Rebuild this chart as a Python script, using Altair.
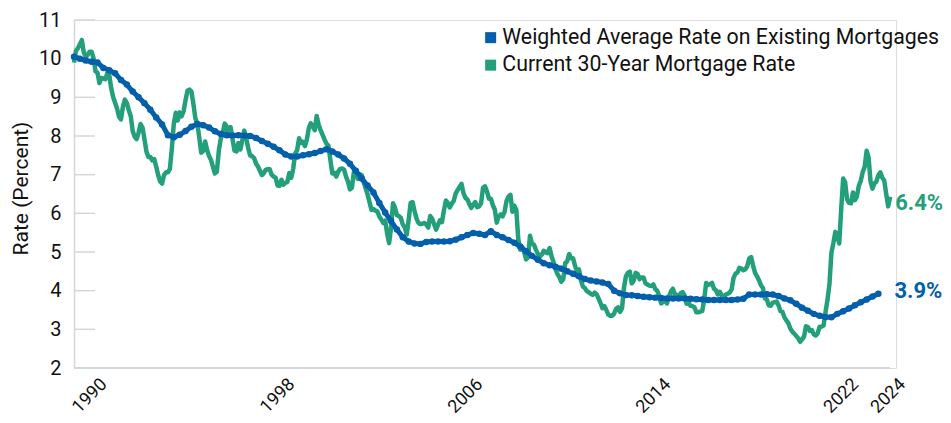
import altair as alt
import pandas as pd

START_YEAR = 1990

# Current 30-year mortgage rate, monthly, Jan 1990 onward
rate_30yr_1990s = [
    9.90, 10.20, 10.27, 10.37, 10.48, 10.16, 10.04, 10.10, 10.18, 10.18, 10.01, 9.67,
    9.64, 9.37, 9.50, 9.49, 9.47, 9.62, 9.58, 9.24, 9.01, 8.86, 8.71, 8.50,
    8.43, 8.76, 8.94, 8.85, 8.67, 8.51, 8.13, 7.98, 7.92, 8.09, 8.31, 8.22,
    7.92, 7.60, 7.46, 7.46, 7.37, 7.40, 7.21, 6.99, 6.83, 6.77, 6.99, 7.06,
    7.06, 7.15, 7.68, 8.32, 8.60, 8.40, 8.61, 8.51, 8.64, 8.93, 9.17, 9.20,
    9.15, 8.83, 8.46, 8.32, 7.96, 7.57, 7.61, 7.86, 7.64, 7.48, 7.38, 7.20,
    7.03, 7.08, 7.62, 7.93, 8.07, 8.32, 8.25, 8.00, 8.23, 7.92, 7.62, 7.60,
    7.82, 7.65, 7.90, 8.14, 7.94, 7.69, 7.50, 7.48, 7.43, 7.29, 7.21, 7.10,
    6.99, 7.04, 7.13, 7.14, 7.14, 7.00, 6.95, 6.92, 6.72, 6.71, 6.87, 6.74,
    6.79, 6.81, 7.04, 6.92, 7.15, 7.55, 7.63, 7.94, 7.82, 7.85, 7.74, 7.91,
]
rate_30yr_2000s = [
    8.21, 8.33, 8.24, 8.15, 8.52, 8.29, 8.15, 8.03, 7.91, 7.80, 7.75, 7.38,
    7.03, 7.05, 6.95, 7.08, 7.15, 7.16, 7.13, 6.95, 6.82, 6.62, 6.66, 7.07,
    7.00, 6.89, 7.01, 6.99, 6.81, 6.65, 6.49, 6.29, 6.09, 6.11, 6.07, 6.05,
    5.92, 5.84, 5.75, 5.81, 5.48, 5.23, 5.63, 6.26, 6.15, 5.95, 5.93, 5.88,
    5.71, 5.64, 5.45, 5.83, 6.27, 6.29, 6.06, 5.87, 5.75, 5.72, 5.73, 5.75,
    5.71, 5.63, 5.93, 5.86, 5.72, 5.58, 5.70, 5.82, 5.77, 6.07, 6.33, 6.27,
    6.15, 6.25, 6.32, 6.51, 6.60, 6.68, 6.76, 6.52, 6.40, 6.36, 6.24, 6.14,
    6.22, 6.29, 6.16, 6.18, 6.26, 6.66, 6.70, 6.57, 6.38, 6.38, 6.21, 6.10,
    5.76, 5.92, 5.97, 5.92, 6.04, 6.32, 6.43, 6.48, 6.04, 6.20, 6.09, 5.33,
    5.06, 5.13, 5.00, 4.81, 4.86, 5.42, 5.22, 5.19, 5.06, 4.95, 4.88, 4.93,
]
rate_30yr_2010s = [
    5.03, 4.99, 4.97, 5.10, 4.89, 4.74, 4.56, 4.43, 4.35, 4.23, 4.30, 4.71,
    4.76, 4.95, 4.84, 4.84, 4.64, 4.51, 4.55, 4.27, 4.11, 4.07, 3.99, 3.96,
    3.92, 3.89, 3.95, 3.91, 3.80, 3.68, 3.55, 3.60, 3.50, 3.38, 3.35, 3.35,
    3.41, 3.53, 3.57, 3.45, 3.54, 4.07, 4.37, 4.46, 4.49, 4.19, 4.26, 4.46,
    4.43, 4.30, 4.34, 4.34, 4.19, 4.16, 4.13, 4.12, 4.16, 4.04, 4.00, 3.86,
    3.67, 3.71, 3.77, 3.67, 3.84, 3.98, 4.05, 3.91, 3.89, 3.80, 3.94, 3.96,
    3.87, 3.66, 3.69, 3.61, 3.60, 3.57, 3.44, 3.44, 3.46, 3.47, 3.77, 4.20,
    4.15, 4.17, 4.20, 4.05, 4.01, 3.90, 3.97, 3.88, 3.81, 3.90, 3.92, 3.95,
    4.03, 4.33, 4.44, 4.47, 4.59, 4.57, 4.53, 4.55, 4.63, 4.83, 4.87, 4.64,
    4.46, 4.37, 4.27, 4.14, 4.07, 3.80, 3.77, 3.62, 3.61, 3.69, 3.70, 3.72,
]
rate_30yr_2020s = [
    3.62, 3.47, 3.45, 3.31, 3.23, 3.16, 3.02, 2.94, 2.89, 2.83, 2.77, 2.68,
    2.74, 2.81, 3.08, 3.06, 2.96, 2.98, 2.87, 2.84, 2.90, 3.07, 3.07, 3.10,
    3.45, 3.76, 4.17, 4.98, 5.23, 5.52, 5.41, 5.22, 6.11, 6.90, 6.81, 6.36,
    6.27, 6.26, 6.54, 6.34, 6.43, 6.71, 6.84, 7.07, 7.20, 7.62, 7.44, 6.82,
    6.64, 6.78, 6.82, 6.99, 7.06, 6.92, 6.85, 6.50, 6.18, 6.43,
]

# Weighted average rate on existing mortgages, quarterly, 1990 Q1 onward
weighted_1990s = [
    10.05, 10.00, 9.95, 9.92,
    9.90, 9.76, 9.70, 9.62,
    9.45, 9.33, 9.15, 9.00,
    8.85, 8.68, 8.48, 8.30,
    8.02, 7.97, 8.03, 8.13,
    8.24, 8.31, 8.28, 8.22,
    8.12, 8.05, 8.02, 8.01,
    8.02, 8.01, 8.00, 7.95,
    7.87, 7.80, 7.72, 7.63,
    7.52, 7.47, 7.47, 7.50,
]
weighted_2000s = [
    7.53, 7.56, 7.61, 7.66,
    7.60, 7.52, 7.42, 7.28,
    7.10, 6.90, 6.72, 6.54,
    6.27, 6.02, 5.80, 5.58,
    5.38, 5.27, 5.22, 5.21,
    5.26, 5.27, 5.27, 5.27,
    5.28, 5.32, 5.38, 5.44,
    5.49, 5.47, 5.44, 5.54,
    5.44, 5.38, 5.31, 5.24,
    5.14, 5.02, 4.90, 4.80,
]
weighted_2010s = [
    4.71, 4.66, 4.62, 4.57,
    4.50, 4.44, 4.37, 4.30,
    4.26, 4.24, 4.21, 4.17,
    4.00, 3.93, 3.89, 3.88,
    3.86, 3.84, 3.83, 3.82,
    3.81, 3.80, 3.80, 3.80,
    3.80, 3.79, 3.78, 3.77,
    3.76, 3.76, 3.76, 3.76,
    3.76, 3.77, 3.79, 3.90,
    3.90, 3.90, 3.91, 3.90,
]
weighted_2020s = [
    3.86, 3.80, 3.75, 3.66,
    3.56, 3.48, 3.40, 3.35,
    3.32, 3.31, 3.40, 3.47,
    3.54, 3.62, 3.70, 3.77,
    3.85, 3.92,
]

series_names = ["Weighted Average Rate on Existing Mortgages", "Current 30-Year Mortgage Rate"]
series_colors = ["#035FAB", "#23A07B"]
x_tick_years = [1990, 1998, 2006, 2014, 2022, 2024]
y_tick_values = [2, 3, 4, 5, 6, 7, 8, 9, 10, 11]
end_label_text = ["3.9%", "6.4%"]

FONT = "Roboto"
GRID_GRAY = "#D3D6DB"
TEXT = "#111111"
BLUE, GREEN = series_colors

monthly = rate_30yr_1990s + rate_30yr_2000s + rate_30yr_2010s + rate_30yr_2020s
quarterly = weighted_1990s + weighted_2000s + weighted_2010s + weighted_2020s

green_df = pd.DataFrame({
    "year": [START_YEAR + i / 12 for i in range(len(monthly))],
    "rate": monthly,
    "series": series_names[1],
})
blue_df = pd.DataFrame({
    "year": [START_YEAR + i / 4 for i in range(len(quarterly))],
    "rate": quarterly,
    "series": series_names[0],
})
end_df = pd.DataFrame({
    "year": [blue_df["year"].iloc[-1], green_df["year"].iloc[-1]],
    "rate": [blue_df["rate"].iloc[-1], green_df["rate"].iloc[-1]],
    "series": series_names,
    "label": end_label_text,
})
ytick_df = pd.DataFrame({"rate": y_tick_values[1:]})

x_scale = alt.Scale(domain=[1990, 2025], nice=False, zero=False)
y_scale = alt.Scale(domain=[2, 11], nice=False, zero=False)
color_scale = alt.Scale(domain=series_names, range=series_colors)

x_axis = alt.Axis(
    values=[v + 1 for v in x_tick_years],
    labelExpr="format(datum.value - 1, 'd')",
    labelAngle=-45,
    labelFont=FONT,
    labelFontSize=18,
    labelColor=TEXT,
    labelPadding=7,
    ticks=False,
    domain=False,
    grid=False,
    title=None,
)
y_axis = alt.Axis(
    values=y_tick_values,
    format="d",
    labelFont=FONT,
    labelFontSize=20,
    labelColor=TEXT,
    labelPadding=13,
    ticks=False,
    domain=True,
    domainColor=GRID_GRAY,
    domainWidth=1.5,
    grid=False,
    title="Rate (Percent)",
    titleFont=FONT,
    titleFontSize=21,
    titleFontWeight="normal",
    titleColor=TEXT,
    titleX=-47,
    titleY=168,
    titleBaseline="alphabetic",
)

X = alt.X("year:Q", scale=x_scale, axis=x_axis)
Y = alt.Y("rate:Q", scale=y_scale, axis=y_axis)

tick_rules = alt.Chart(ytick_df).mark_rule(color=GRID_GRAY, strokeWidth=1.5).encode(
    y=Y,
    x=alt.value(0),
    x2=alt.value(21),
)
x_axis_line = alt.Chart(ytick_df).mark_rule(color=GRID_GRAY, strokeWidth=1.5).encode(
    y=alt.value(348),
    x=alt.value(0),
    x2=alt.value(816),
)

green_line = alt.Chart(green_df).mark_line(
    strokeWidth=4.5, strokeJoin="round", color=GREEN
).encode(x=X, y=Y)

blue_line = alt.Chart(blue_df).mark_line(
    strokeWidth=5, strokeJoin="round", color=BLUE
).encode(x=X, y=Y)

blue_points = alt.Chart(blue_df).mark_point(
    filled=True, size=42, opacity=1, strokeWidth=0
).encode(
    x=X, y=Y,
    color=alt.Color(
        "series:N", scale=color_scale,
        legend=alt.Legend(
            title=None, orient="none", legendX=406, legendY=7,
            symbolType="square", symbolSize=121, symbolStrokeWidth=0, symbolOpacity=1,
            labelFont=FONT, labelFontSize=21.3, labelColor=TEXT, labelOffset=1,
            rowPadding=5.5, padding=0, labelLimit=600,
        ),
    ),
)

def end_label(i, dx, dy):
    return alt.Chart(end_df[end_df["series"] == series_names[i]]).mark_text(
        align="left", baseline="middle", dx=dx, dy=dy,
        font=FONT, fontSize=22, fontWeight="bold", color=series_colors[i],
    ).encode(x=X, y=Y, text="label:N")

chart = alt.layer(
    tick_rules, x_axis_line, green_line, blue_line, blue_points,
    end_label(1, 5, 6), end_label(0, 16, -3),
).properties(
    width=822, height=348,
    padding={"left": 66, "top": 12, "right": 47, "bottom": 47},
    autosize=alt.AutoSizeParams(type="none"),
).configure_view(stroke=None).configure(font=FONT)

chart.save("out.html", embed_options={"renderer": "svg", "actions": False})
